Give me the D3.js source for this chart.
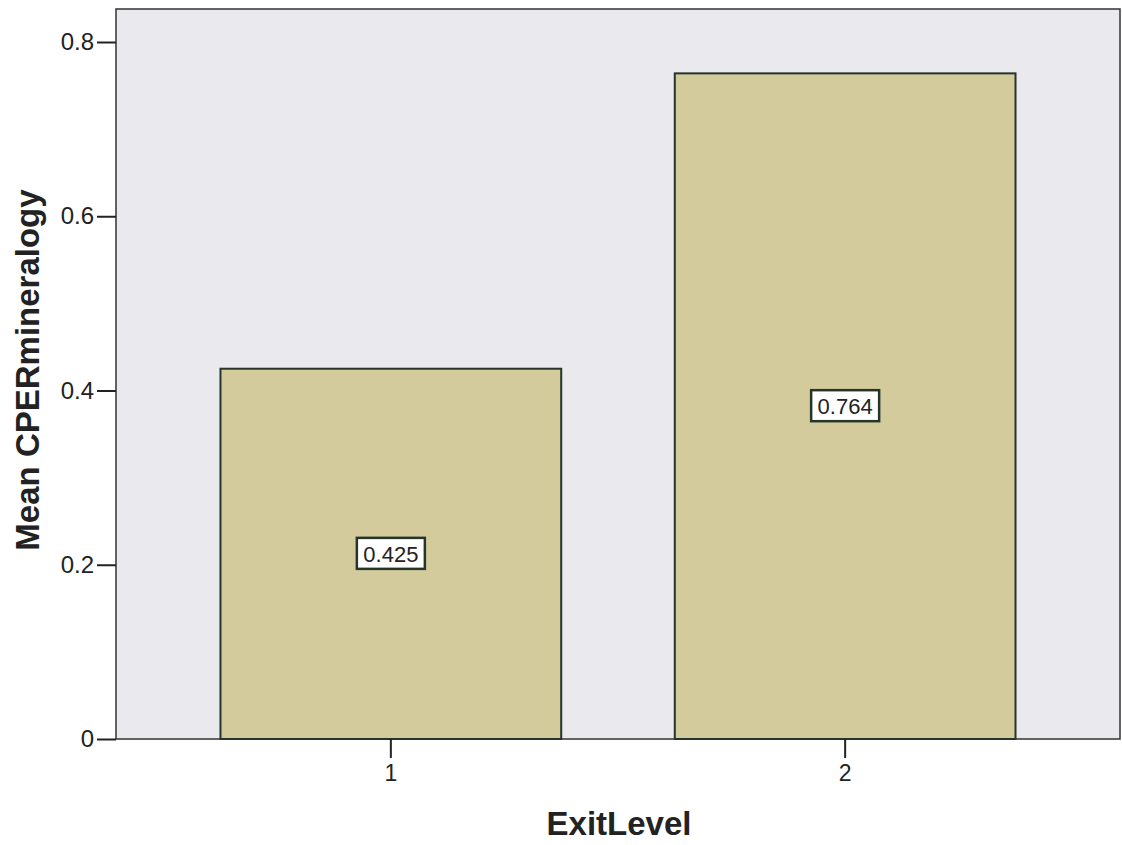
<!DOCTYPE html>
<html>
<head>
<meta charset="utf-8">
<script src="https://cdn.jsdelivr.net/npm/d3@7"></script>
<style>
  body { margin: 0; background: #fff; }
  text { font-family: "Liberation Sans", Arial, sans-serif; fill: #222; }
</style>
</head>
<body>
<div id="chart"></div>
<script>
const width = 1122;
const height = 845;
const margin = { top: 9, right: 2, bottom: 105, left: 116 };

// data
const levels = ["1", "2"];
const means = [0.425, 0.764];
const valueLabels = ["0.425", "0.764"];
const yTicks = [0, 0.2, 0.4, 0.6, 0.8];

const data = levels.map((d, i) => ({ level: d, mean: means[i], label: valueLabels[i] }));

const svg = d3.select("#chart").append("svg")
    .attr("width", width)
    .attr("height", height);

const x = d3.scaleBand()
    .domain(levels)
    .range([margin.left, width - margin.right])
    .paddingInner(0.25)
    .paddingOuter(0.23);

const plotBottom = height - margin.bottom - 1;

// 0.8 sits a bit below the top of the frame
const y = d3.scaleLinear()
    .domain([0, 0.8])
    .range([plotBottom, 42]);

// plot background
svg.append("rect")
    .attr("x", margin.left)
    .attr("y", margin.top)
    .attr("width", width - margin.left - margin.right)
    .attr("height", plotBottom - margin.top)
    .attr("fill", "#e9e9ee")
    .attr("stroke", "#333")
    .attr("stroke-width", 1.5);

// bars
svg.selectAll(".bar")
    .data(data)
    .enter().append("rect")
    .attr("class", "bar")
    .attr("x", d => x(d.level))
    .attr("y", d => y(d.mean))
    .attr("width", x.bandwidth())
    .attr("height", d => y(0) - y(d.mean))
    .attr("fill", "#d4cb9d")
    .attr("stroke", "#26352b")
    .attr("stroke-width", 2);

// value labels in boxes
const lab = svg.selectAll(".vlab")
    .data(data)
    .enter().append("g")
    .attr("class", "vlab")
    .attr("transform", d => `translate(${x(d.level) + x.bandwidth() / 2},${(y(d.mean) + y(0)) / 2})`);

lab.append("rect")
    .attr("x", -34)
    .attr("y", -16)
    .attr("width", 68)
    .attr("height", 31)
    .attr("fill", "#fff")
    .attr("stroke", "#26352b")
    .attr("stroke-width", 2.5);

lab.append("text")
    .attr("text-anchor", "middle")
    .attr("dy", "0.35em")
    .style("font-size", "22px")
    .text(d => d.label);

// y axis
const yAxis = svg.append("g")
    .attr("transform", `translate(${margin.left},0)`)
    .call(d3.axisLeft(y).tickValues(yTicks).tickSize(19).tickPadding(3)
        .tickFormat(d => d === 0 ? "0" : d3.format(".1f")(d)));
yAxis.select(".domain").remove();
yAxis.selectAll("line").attr("stroke", "#222").attr("stroke-width", 2);
yAxis.selectAll("text").style("font-size", "24px").attr("fill", "#222");

// x axis
const xAxis = svg.append("g")
    .attr("transform", `translate(0,${plotBottom})`)
    .call(d3.axisBottom(x).tickSize(19).tickPadding(7));
xAxis.select(".domain").remove();
xAxis.selectAll("line").attr("stroke", "#222").attr("stroke-width", 2);
xAxis.selectAll("text").style("font-size", "23px").attr("fill", "#222");

// axis titles
svg.append("text")
    .attr("x", 619)
    .attr("y", 835)
    .attr("text-anchor", "middle")
    .style("font-size", "33px")
    .style("font-weight", "bold")
    .text("ExitLevel");

svg.append("text")
    .attr("transform", `translate(39,370) rotate(-90)`)
    .attr("text-anchor", "middle")
    .style("font-size", "33px")
    .style("font-weight", "bold")
    .text("Mean CPERmineralogy");
</script>
</body>
</html>
